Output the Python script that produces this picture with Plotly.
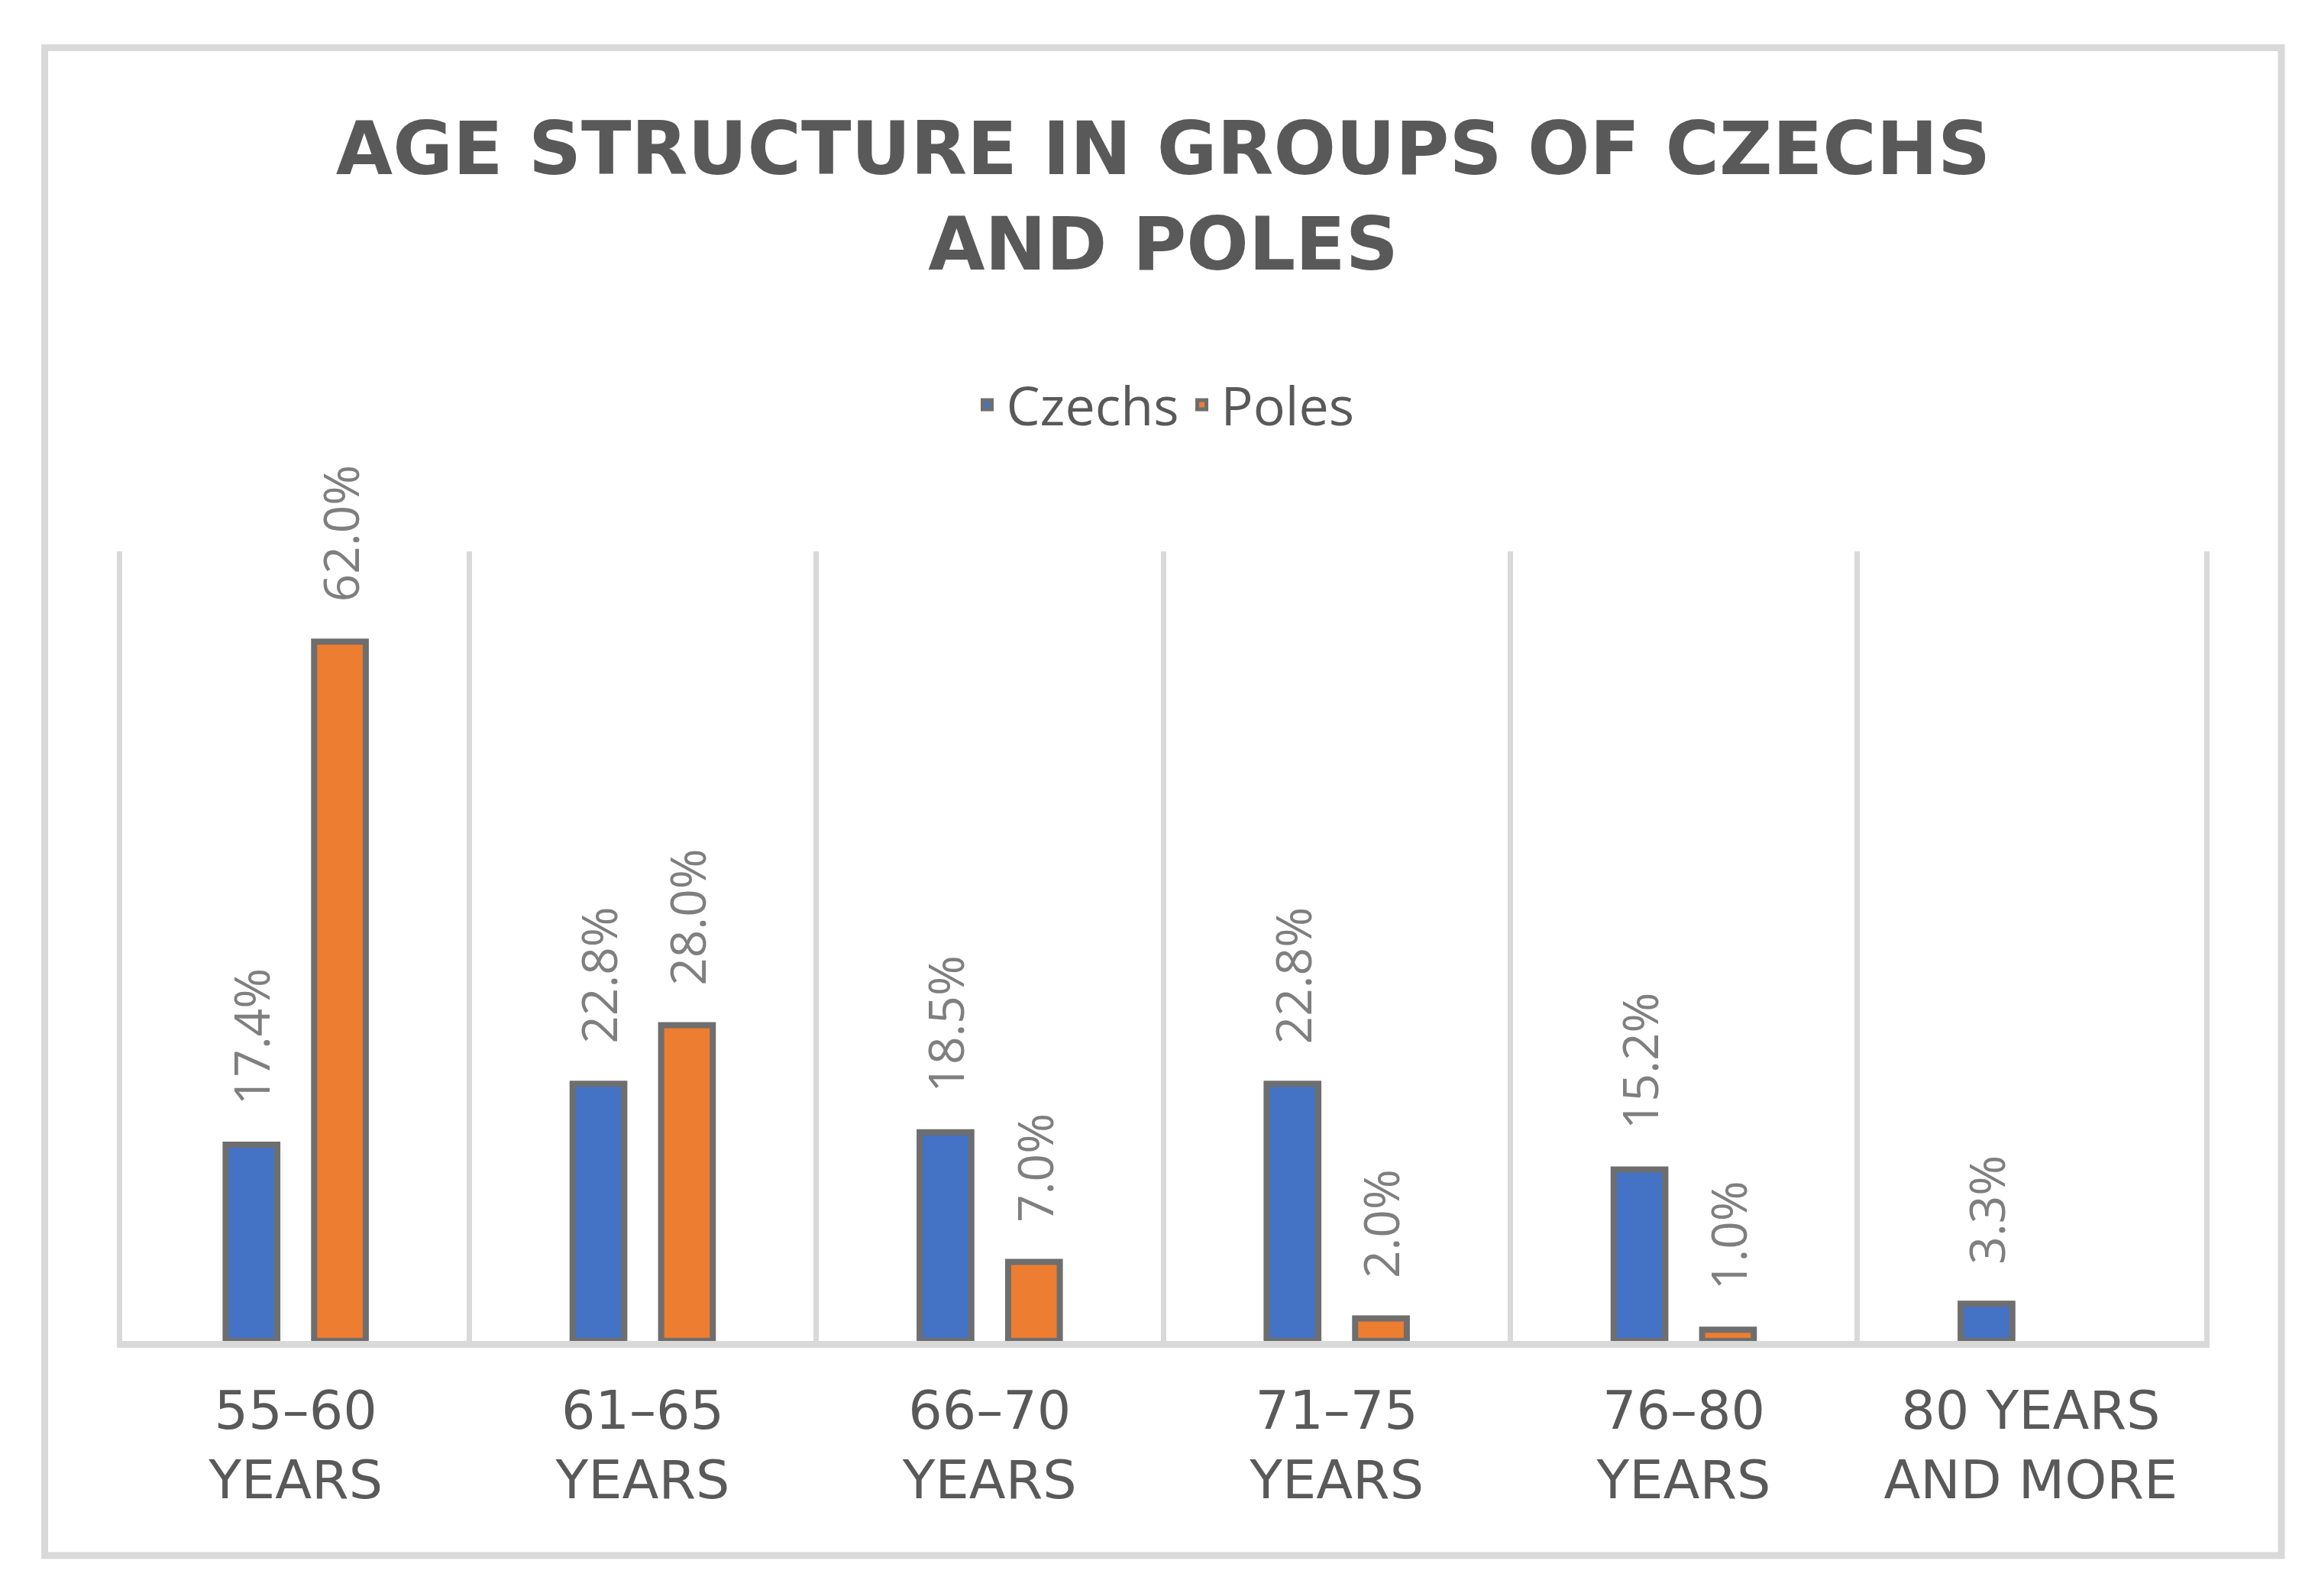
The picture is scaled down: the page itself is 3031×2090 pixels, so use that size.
import plotly.graph_objects as go

# ---- data ----
categories = ["55–60<br>YEARS", "61–65<br>YEARS", "66–70<br>YEARS",
              "71–75<br>YEARS", "76–80<br>YEARS", "80 YEARS<br>AND MORE"]
czechs = [17.4, 22.8, 18.5, 22.8, 15.2, 3.3]
poles = [62.0, 28.0, 7.0, 2.0, 1.0, None]
series_names = ["Czechs", "Poles"]
title_text = "AGE STRUCTURE IN GROUPS OF CZECHS<br>AND POLES"

# ---- style ----
W, H = 3031, 2090
ML, MR, MT, MB = 152, 153, 714, 342
BARGAP, BARGROUPGAP = 0.49, 0.416
COLORS = ["#4472C4", "#ED7D31"]
OUTLINE = "#6E6E6E"
TXT = "#595959"
LBL = "#7F7F7F"
GRID = "#D9D9D9"

fig = go.Figure()
for name, vals, col in zip(series_names, [czechs, poles], COLORS):
    fig.add_trace(go.Bar(
        name=name, x=categories, y=vals,
        marker=dict(color=col, line=dict(color=OUTLINE, width=8)),
    ))

# data labels (rotated, above bars)
half = (1 - BARGAP) / 4
for k, vals in enumerate([czechs, poles]):
    sign = -1 if k == 0 else 1
    for i, v in enumerate(vals):
        if v is None:
            continue
        fig.add_annotation(
            x=i + sign * half, y=v, xref="x", yref="y",
            text=f"{v:.1f}%", textangle=-90, showarrow=False,
            xanchor="center", yanchor="bottom", yshift=50,
            font=dict(family="Open Sans", size=64, color=LBL),
        )

# outer frame
pw, ph = W - ML - MR, H - MT - MB
def px2x(p): return (p - ML) / pw
def py2y(p): return (H - MB - p) / ph
fig.add_shape(type="rect", xref="paper", yref="paper",
              x0=px2x(50.5), x1=px2x(2979), y0=py2y(2029), y1=py2y(54.5),
              line=dict(color=GRID, width=9), fillcolor="rgba(0,0,0,0)", layer="below")

fig.update_layout(
    width=W, height=H,
    margin=dict(l=ML, r=MR, t=MT, b=MB),
    paper_bgcolor="white", plot_bgcolor="white",
    barmode="group", bargap=BARGAP, bargroupgap=BARGROUPGAP,
    title=dict(text=title_text, x=0.5, xanchor="center", xref="paper",
               y=1 - 220 / H, yanchor="middle", yref="container",
               font=dict(family="DejaVu Sans", size=96, color=TXT, weight="bold")),
    legend=dict(orientation="h", x=0.5, xanchor="center", y=1 - 522 / H,
                yanchor="middle", yref="container",
                font=dict(family="Open Sans", size=70, color=TXT),
                itemwidth=40, traceorder="normal"),
    xaxis=dict(tickson="boundaries", showgrid=True, gridcolor=GRID, gridwidth=7,
               showline=True, linecolor=GRID, linewidth=9, ticks="",
               tickfont=dict(family="DejaVu Sans", size=70, color=TXT),
               ticklabelstandoff=22),
    yaxis=dict(range=[0, 70], showgrid=False, showticklabels=False, zeroline=False,
               showline=True, mirror=True, linecolor=GRID, linewidth=7, ticks=""),
)

fig.write_html("out.html")
